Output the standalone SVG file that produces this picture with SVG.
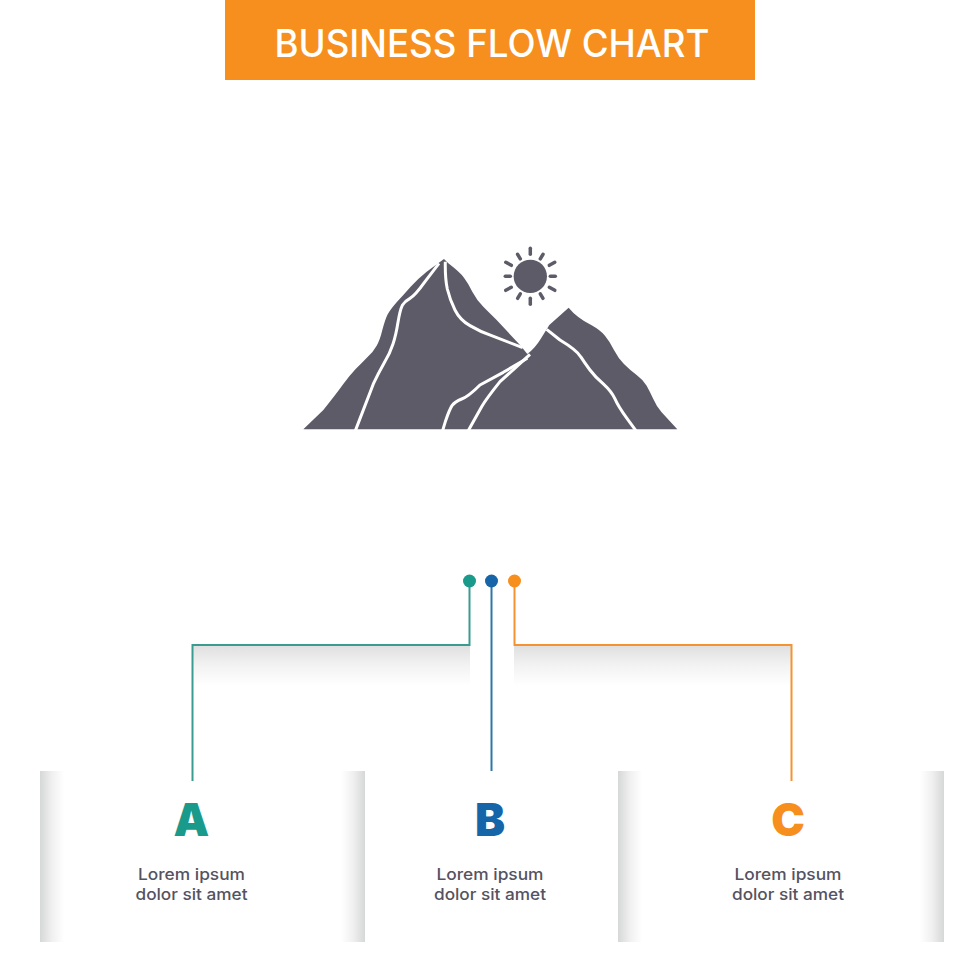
<svg xmlns="http://www.w3.org/2000/svg" width="980" height="980" viewBox="0 0 980 980">
<style>
.title{font-family:"Inter","Liberation Sans",sans-serif;font-size:38px;font-weight:500;fill:#fff;text-anchor:middle}
.letter{font-family:"Inter","Liberation Sans",sans-serif;font-weight:900;font-size:45px;text-anchor:middle}
.body{font-family:"Inter","Liberation Sans",sans-serif;font-size:16px;font-weight:500;fill:#55535f;text-anchor:middle}
.wire{fill:none;stroke-width:2}
.crack{fill:none;stroke:#fff;stroke-width:9;stroke-linejoin:round;stroke-linecap:butt}
.ray{stroke:#5d5b68;stroke-width:3.500;stroke-linecap:round}
</style>
<defs>
<linearGradient id="gl" x1="0" x2="1" y1="0" y2="0"><stop offset="0" stop-color="#d6d7d7"/><stop offset=".5" stop-color="#f0f0f0"/><stop offset="1" stop-color="#fff"/></linearGradient>
<linearGradient id="gr" x1="1" x2="0" y1="0" y2="0"><stop offset="0" stop-color="#d6d7d7"/><stop offset=".5" stop-color="#f0f0f0"/><stop offset="1" stop-color="#fff"/></linearGradient>
<linearGradient id="gd" x1="0" x2="0" y1="0" y2="1"><stop offset="0" stop-color="#dfe0df"/><stop offset=".5" stop-color="#f3f3f3"/><stop offset="1" stop-color="#fff"/></linearGradient>
</defs>
<rect width="980" height="980" fill="#fff"/>
<g id="banner">
<rect x="225" y="0" width="530" height="80" fill="#f78f1e"/>
<text class="title" x="492" y="57" textLength="435" lengthAdjust="spacingAndGlyphs">BUSINESS FLOW CHART</text>
</g>
<g id="mountain" transform="translate(290,235) scale(0.3333)">
<path fill="#5d5b68" d="M40 583L100 525Q140 475 160 447Q180 420 197 402Q215 385 232 367Q250 350 260 332Q270 315 277 285Q285 255 292 240Q300 225 320 202Q340 180 362 155Q385 130 410 110L462 72L475 85Q510 112 522 128Q535 145 547 170Q560 195 580 215Q600 235 620 255L692 332L712 357Q735 340 752 312L778 270L836 218Q850 235 865 246Q880 258 905 271Q930 285 945 302Q960 320 972 345Q985 370 1002 387Q1020 405 1040 420Q1060 435 1070 452Q1080 470 1090 492Q1100 515 1115 532L1162 583Z"/>
<path class="crack" d="M447 85L405 140Q375 182 360 190Q345 198 337 211Q330 225 324 262Q318 300 309 327Q300 355 282 385Q265 415 250 447L195 590"/>
<path class="crack" d="M466 80Q465 130 472 162Q480 195 495 225Q510 255 540 272Q570 290 605 302L698 338"/>
<path class="crack" d="M712 370L640 412L570 450Q535 485 515 492Q495 500 486 512Q478 525 467 557L457 590"/>
<path class="crack" d="M720 358L680 395L630 440Q590 490 575 515L533 590"/>
<path class="crack" d="M770 283L810 315Q860 345 872 365Q885 385 900 405Q915 425 940 447Q965 470 975 492Q985 515 1012 552L1040 590"/>
<circle cx="721" cy="124" r="50" fill="#5d5b68"/>
</g>
<g id="sun-rays" transform="translate(530.300,276.300)">
<g class="ray">
<line x1="0" y1="-28" x2="0" y2="-22"/><line x1="0" y1="22" x2="0" y2="28"/>
<line x1="-25" y1="0" x2="-20" y2="0"/><line x1="20" y1="0" x2="25" y2="0"/>
<line x1="-12.700" y1="-22" x2="-10" y2="-17.500"/><line x1="12.700" y1="-22" x2="10" y2="-17.500"/>
<line x1="-12.700" y1="22" x2="-10" y2="17.500"/><line x1="12.700" y1="22" x2="10" y2="17.500"/>
<line x1="-24.500" y1="-14" x2="-19" y2="-11"/><line x1="24.500" y1="-14" x2="19" y2="-11"/>
<line x1="-24.500" y1="14" x2="-19" y2="11"/><line x1="24.500" y1="14" x2="19" y2="11"/>
</g>
</g>
<g id="shadows">
<rect x="193" y="646" width="277" height="40" fill="url(#gd)"/>
<rect x="514" y="646" width="277" height="40" fill="url(#gd)"/>
</g>
<g id="connectors">
<path class="wire" stroke="#3a9b90" d="M469.500 581V645H192.500V781"/>
<path class="wire" stroke="#2f76a6" d="M491.500 581V771"/>
<path class="wire" stroke="#f59332" d="M514.500 581V645H791.500V781"/>
<circle cx="469.500" cy="581" r="6.500" fill="#1a9a8a"/>
<circle cx="491.500" cy="581" r="6.500" fill="#1565a8"/>
<circle cx="514.500" cy="581" r="6.500" fill="#f78f1e"/>
</g>
<g id="node-a">
<rect x="40" y="771" width="24" height="171" fill="url(#gl)"/>
<rect x="341" y="771" width="24" height="171" fill="url(#gr)"/>
<text class="letter" x="191.500" y="836" fill="#1a9a8a">A</text>
<text class="body" x="191.500" y="880" textLength="107" lengthAdjust="spacingAndGlyphs">Lorem ipsum</text>
<text class="body" x="191.500" y="900" textLength="112" lengthAdjust="spacingAndGlyphs">dolor sit amet</text>
</g>
<g id="node-b">
<text class="letter" x="490" y="836" fill="#1565a8">B</text>
<text class="body" x="490" y="880" textLength="107" lengthAdjust="spacingAndGlyphs">Lorem ipsum</text>
<text class="body" x="490" y="900" textLength="112" lengthAdjust="spacingAndGlyphs">dolor sit amet</text>
</g>
<g id="node-c">
<rect x="618" y="771" width="24" height="171" fill="url(#gl)"/>
<rect x="920" y="771" width="24" height="171" fill="url(#gr)"/>
<text class="letter" x="788" y="836" fill="#f78f1e">C</text>
<text class="body" x="788" y="880" textLength="107" lengthAdjust="spacingAndGlyphs">Lorem ipsum</text>
<text class="body" x="788" y="900" textLength="112" lengthAdjust="spacingAndGlyphs">dolor sit amet</text>
</g>
</svg>
